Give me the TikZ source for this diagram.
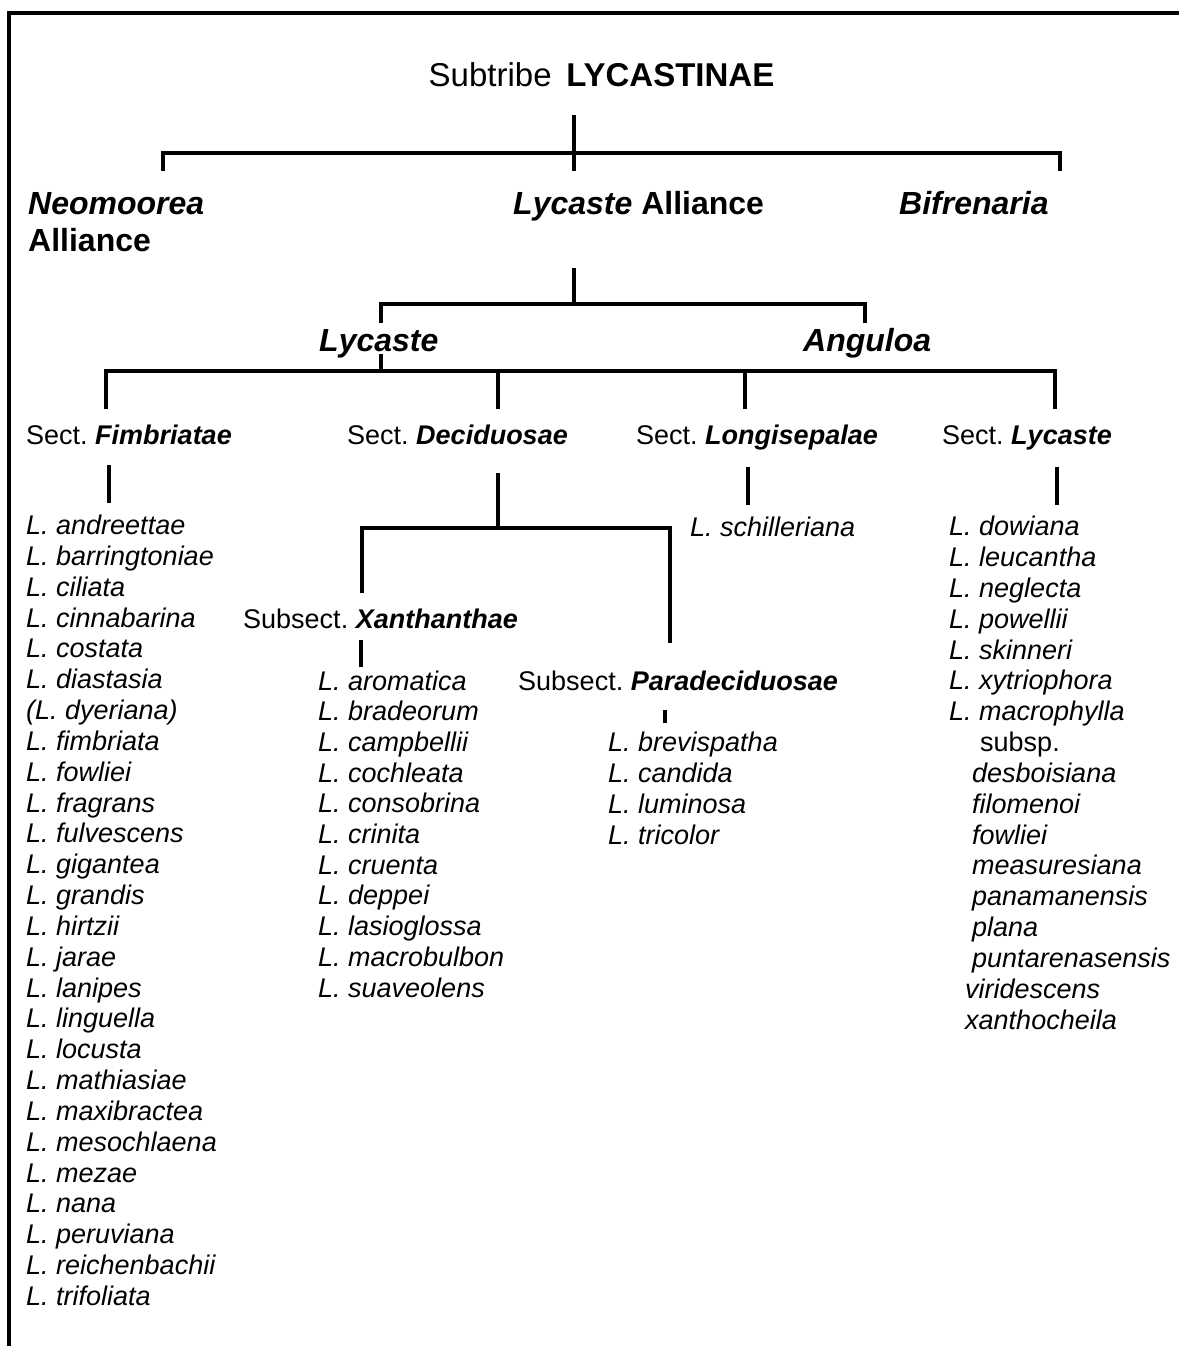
\documentclass[tikz,border=0pt]{standalone}
\usepackage{fontspec}
\setmainfont{Liberation Sans}
\frenchspacing
\newcommand{\taxbi}[1]{\textbf{\textit{#1}}}
\tikzset{
  tree/.style={line width=3.5pt},
  stem/.style={line width=4.5pt},
  rankbig/.style={anchor=base west,inner sep=0pt,font=\fontsize{32}{37}\selectfont},
  secnode/.style={anchor=base west,inner sep=0pt,font=\fontsize{27}{31}\selectfont},
  taxon/.style={secnode,font=\fontsize{27}{31}\selectfont\itshape},
}
\begin{document}
\begin{tikzpicture}[x=1pt,y=-1pt]
        \useasboundingbox (0,0) rectangle (1178,1346);
        %% frame
        \draw[tree] (9,1360) -- (9,13) -- (1190,13);
        %% ranks
        \node[rankbig,font=\fontsize{33}{38}\selectfont] (tribe) at (428.5,86)
            {Subtribe\hspace{0.45em}\textbf{LYCASTINAE}};
        \node[rankbig] (neo) at (28,214.5) {\taxbi{Neomoorea}};
        \node[rankbig] (neo-b) at (28,251.5) {\textbf{Alliance}};
        \node[rankbig] (lal) at (513,214.5) {\textbf{\textit{Lycaste} Alliance}};
        \node[rankbig] (bif) at (899,214.5) {\taxbi{Bifrenaria}};
        \node[rankbig] (lyc) at (319,351) {\taxbi{Lycaste}};
        \node[rankbig] (ang) at (803,351) {\taxbi{Anguloa}};
        %% sections
        \node[secnode] (fim) at (26,444) {Sect. \taxbi{Fimbriatae}};
        \node[secnode] (dec) at (347,444) {Sect. \taxbi{Deciduosae}};
        \node[secnode] (lon) at (636,444) {Sect. \taxbi{Longisepalae}};
        \node[secnode] (lsc) at (942,444) {Sect. \taxbi{Lycaste}};
        \node[secnode] (xan) at (243,628) {Subsect. \taxbi{Xanthanthae}};
        \node[secnode] (par) at (518,690) {Subsect. \taxbi{Paradeciduosae}};
        %% species
        \foreach \sp [count=\i] in {L. andreettae, L. barringtoniae, L. ciliata,
            L. cinnabarina, L. costata, L. diastasia, (L. dyeriana), L. fimbriata,
            L. fowliei, L. fragrans, L. fulvescens, L. gigantea, L. grandis,
            L. hirtzii, L. jarae, L. lanipes, L. linguella, L. locusta,
            L. mathiasiae, L. maxibractea, L. mesochlaena, L. mezae, L. nana,
            L. peruviana, L. reichenbachii, L. trifoliata}
            \node[taxon] (fim\i) at (26,{534.5+30.84*(\i-1)}) {\sp};
        \foreach \sp [count=\i] in {aromatica, bradeorum, campbellii, cochleata,
            consobrina, crinita, cruenta, deppei, lasioglossa, macrobulbon, suaveolens}
            \node[taxon] (xan\i) at (318,{690+30.7*(\i-1)}) {L. \sp};
        \foreach \sp [count=\i] in {brevispatha, candida, luminosa, tricolor}
            \node[taxon] (par\i) at (608,{751.7+30.8*(\i-1)}) {L. \sp};
        \node[taxon] (lon1) at (690,536) {L. schilleriana};
        \foreach \x/\sp [count=\i] in {949/L. dowiana, 949/L. leucantha,
            949/L. neglecta, 949/L. powellii, 949/L. skinneri, 949/L. xytriophora,
            949/L. macrophylla, 980/\upshape subsp., 972/desboisiana, 972/filomenoi,
            972/fowliei, 972/measuresiana, 972/panamanensis, 972/plana,
            972/puntarenasensis, 965/viridescens, 965/xanthocheila}
            \node[taxon] (lsc\i) at (\x,{535.7+30.84*(\i-1)}) {\sp};
        %% tribe bracket
        \coordinate (tribe-top) at (574,115);
        \coordinate (tribe-fork) at (574,153);
        \coordinate (neo-end) at (163,171);
        \coordinate (lal-end) at (574,171);
        \coordinate (bif-end) at (1060,171);
        \draw[tree] (tribe-top) -- (lal-end);
        \draw[tree] (neo-end) |- (tribe-fork) -| (bif-end);
        %% alliance bracket
        \coordinate (lal-top) at (574,268);
        \coordinate (lal-fork) at (574,304);
        \coordinate (lyc-end) at (381,323);
        \coordinate (ang-end) at (865,323);
        \draw[tree] (lal-top) -- (lal-fork);
        \draw[tree] (lyc-end) |- (lal-fork) -| (ang-end);
        %% genus bracket
        \coordinate (lyc-top) at (381,354);
        \coordinate (lyc-fork) at (381,371);
        \coordinate (fim-end) at (106,409);
        \coordinate (dec-end) at (498,409);
        \coordinate (lon-end) at (745,409);
        \coordinate (lsc-end) at (1055,409);
        \draw[tree] (lyc-top) -- (lyc-fork);
        \draw[tree] (fim-end) |- (lyc-fork) -| (lsc-end);
        \foreach \e in {dec-end,lon-end} \draw[tree] (\e) -- (\e |- lyc-fork);
        %% section bracket
        \coordinate (dec-top) at (498,473);
        \coordinate (dec-fork) at (498,528);
        \coordinate (xan-end) at (362,593);
        \coordinate (par-end) at (670,643);
        \draw[tree] (dec-top) -- (dec-fork);
        \draw[tree] (xan-end) |- (dec-fork) -| (par-end);
        %% stems to the species
        \foreach \n/\x/\a/\b in {fim/109/465/503, lon/748/467/505, lsc/1057/467/505,
            xan/361/640/667, par/665/710/723} {
            \coordinate (\n-a) at (\x,\a);
            \coordinate (\n-b) at (\x,\b);
            \draw[stem] (\n-a) -- (\n-b);
        }
    \end{tikzpicture}
\end{document}
